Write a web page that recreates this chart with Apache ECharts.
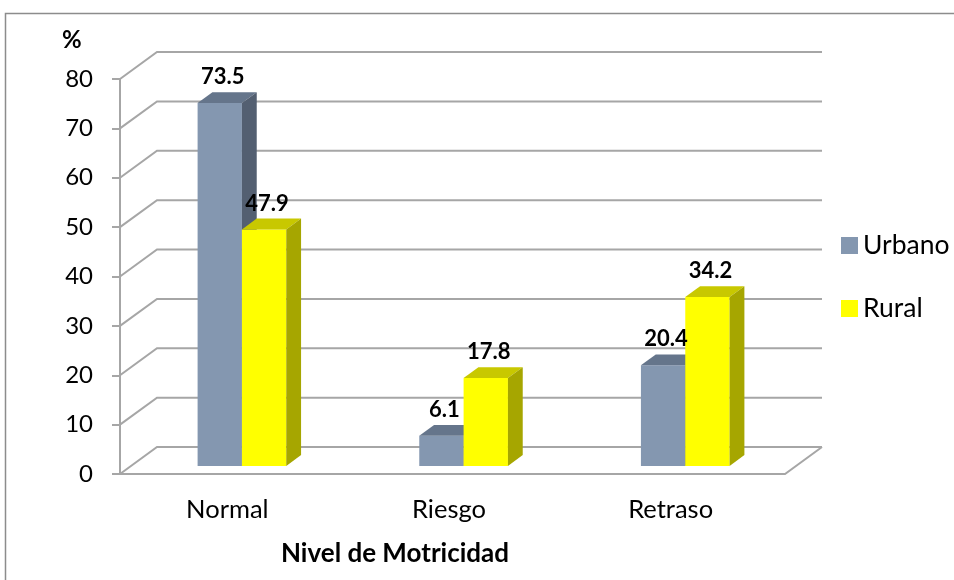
<!DOCTYPE html>
<html><head><meta charset="utf-8">
<script src="https://cdn.jsdelivr.net/npm/echarts@6/dist/echarts.min.js"></script>
<style>html,body{margin:0;padding:0;background:#fff}#c{width:954px;height:580px}</style>
</head><body><div id="c"></div>
<script>
const categories = ['Normal', 'Riesgo', 'Retraso'];
const urbano = [73.5, 6.1, 20.4];
const rural = [47.9, 17.8, 34.2];
const yTicks = [0, 10, 20, 30, 40, 50, 60, 70, 80];
const seriesNames = ['Urbano', 'Rural'];

const FONT = 'Lato, "Open Sans", sans-serif';
const DX = 37, DY = -27, D0 = 0.3, D1 = 0.7, BARW = 0.2;
const COLORS = {
  Urbano: { front: '#8497b0', top: '#65758b', side: '#535f71' },
  Rural: { front: '#ffff00', top: '#c8c800', side: '#a6a600' }
};

const chart = echarts.init(document.getElementById('c'), null, { renderer: 'canvas' });

function gridRender(params, api) {
  const v = api.value(0);
  const band = api.size([1, 0])[0];
  const L = api.coord([0, v])[0] - band / 2;
  const R = api.coord([categories.length - 1, v])[0] + band / 2;
  const y = api.coord([0, v])[1];
  const st = { stroke: '#a6a6a6', lineWidth: 2, fill: null };
  const children = [{
    type: 'polyline',
    shape: { points: [[L, y], [L + DX, y + DY], [R + DX, y + DY]] },
    style: st
  }];
  if (v === 0) {
    children.push({
      type: 'polyline',
      shape: { points: [[L, y], [R, y], [R + DX, y + DY]] },
      style: st
    });
  }
  return { type: 'group', children };
}

function geom(side, api) {
  const ci = api.value(0);
  const val = api.value(1);
  const band = api.size([1, 0])[0];
  const w = band * BARW;
  const c = api.coord([ci, 0]);
  const t = api.coord([ci, val]);
  const sx = D0 * DX, sy = D0 * DY;
  const ddx = (D1 - D0) * DX, ddy = (D1 - D0) * DY;
  const x0 = side === 0 ? c[0] + sx - w : c[0] + sx;
  return { val, x0, x1: x0 + w, yb: c[1] + sy, yt: t[1] + sy, ddx, ddy };
}

function barRender(side) {
  return function (params, api) {
    const g = geom(side, api);
    const { x0, x1, yb, yt, ddx, ddy } = g;
    const col = COLORS[seriesNames[side]];
    return {
      type: 'group',
      children: [
        { type: 'polygon', shape: { points: [[x0, yb], [x1, yb], [x1, yt], [x0, yt]] }, style: { fill: col.front } },
        { type: 'polygon', shape: { points: [[x0, yt], [x1, yt], [x1 + ddx, yt + ddy], [x0 + ddx, yt + ddy]] }, style: { fill: col.top } },
        { type: 'polygon', shape: { points: [[x1, yb], [x1 + ddx, yb + ddy], [x1 + ddx, yt + ddy], [x1, yt]] }, style: { fill: col.side } }
      ]
    };
  };
}

function labelRender(side) {
  return function (params, api) {
    const g = geom(side, api);
    return {
      type: 'text',
      style: {
        x: (g.x0 + g.x1) / 2 + 3, y: g.yt + g.ddy - 4, text: String(g.val),
        textAlign: 'center', textVerticalAlign: 'bottom', fill: '#000', font: 'bold 22px ' + FONT
      }
    };
  };
}

chart.setOption({
  animation: false,
  backgroundColor: '#fff',
  grid: { left: 120, right: 169, top: 79, bottom: 106 },
  xAxis: {
    type: 'category', data: categories,
    axisLine: { show: false }, axisTick: { show: false },
    axisLabel: { color: '#000', fontFamily: FONT, fontSize: 25.5, margin: 23, padding: [0, 7, 0, 0] }
  },
  yAxis: {
    type: 'value', min: 0, max: 80, interval: 10,
    axisLine: { show: true, lineStyle: { color: '#a6a6a6', width: 2 } },
    axisTick: { show: true, length: 8, lineStyle: { color: '#a6a6a6', width: 2 } },
    splitLine: { show: false },
    axisLabel: { color: '#000', fontFamily: FONT, fontSize: 24, margin: 27 }
  },
  legend: {
    orient: 'vertical', left: 836, top: 227, itemWidth: 17, itemHeight: 17, itemGap: 36,
    icon: 'rect',
    textStyle: { color: '#000', fontFamily: FONT, fontSize: 26.5 },
    data: seriesNames
  },
  graphic: [
    { type: 'rect', shape: { x: 5.5, y: 13.5, width: 1000, height: 700 }, style: { fill: null, stroke: '#8c8c8c', lineWidth: 1.5 }, silent: true },
    { type: 'text', left: 62, top: 28, style: { text: '%', font: 'bold 24px ' + FONT, fill: '#000' } },
    { type: 'text', x: 395, y: 554, style: { text: 'Nivel de Motricidad', font: 'bold 26px ' + FONT, fill: '#000', textAlign: 'center', textVerticalAlign: 'middle' } }
  ],
  series: [
    { type: 'custom', name: '_grid', silent: true, z: 1, renderItem: gridRender, data: yTicks.map(v => [v]), encode: { y: 0 } },
    { type: 'custom', name: 'Urbano', z: 2, itemStyle: { color: COLORS.Urbano.front }, renderItem: barRender(0), data: urbano.map((v, i) => [i, v]), encode: { x: 0, y: 1 } },
    { type: 'custom', name: 'Rural', z: 3, itemStyle: { color: COLORS.Rural.front }, renderItem: barRender(1), data: rural.map((v, i) => [i, v]), encode: { x: 0, y: 1 } },
    { type: 'custom', name: 'Urbano', z: 5, silent: true, renderItem: labelRender(0), data: urbano.map((v, i) => [i, v]), encode: { x: 0, y: 1 } },
    { type: 'custom', name: 'Rural', z: 5, silent: true, renderItem: labelRender(1), data: rural.map((v, i) => [i, v]), encode: { x: 0, y: 1 } }
  ]
});
</script></body></html>
